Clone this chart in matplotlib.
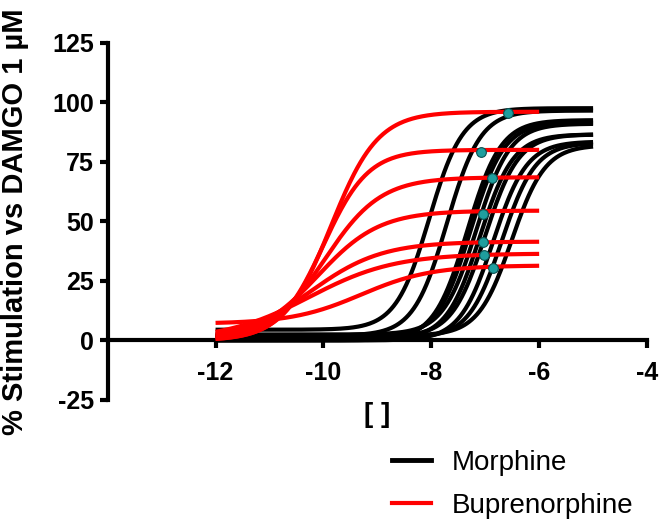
import numpy as np
import matplotlib
matplotlib.use("Agg")
import matplotlib.pyplot as plt
from matplotlib.lines import Line2D

plt.rcParams['font.family'] = ['Liberation Sans', 'DejaVu Sans']
plt.rcParams['axes.unicode_minus'] = False

# ---------------- data ----------------
x_ticks = [-12, -10, -8, -6, -4]
x_tick_labels = ['-12', '-10', '-8', '-6', '-4']
y_ticks = [-25, 0, 25, 50, 75, 100, 125]

# Morphine fitted curves (4-parameter logistic), log[agonist] -12 .. -5
morphine_bottom = [4.5, 2.0, 0.0, 1.0, 2.5, 0.5, 1.5, 0.0, 1.0, 2.0]
morphine_top = [97.5, 96.5, 92.5, 91.5, 91.0, 86.5, 86.5, 83.5, 83.0, 82.0]
morphine_logec50 = [-8.04, -7.71, -7.33, -7.27, -7.16, -7.10, -7.00, -6.85, -6.69, -6.51]
morphine_hill = [1.4, 1.4, 1.4, 1.4, 1.4, 1.4, 1.4, 1.4, 1.4, 1.4]
morphine_range = (-12, -5)

# Buprenorphine fitted curves, log[agonist] -12 .. -6
bup_bottom = [0.0, 0.0, 0.0, 0.0, 0.0, 0.0, 7.0]
bup_top = [96.0, 80.0, 68.5, 54.5, 41.5, 36.5, 31.5]
bup_logec50 = [-9.86, -10.0, -9.97, -10.10, -10.23, -10.26, -9.3]
bup_hill = [1.0, 1.05, 0.84, 0.76, 0.66, 0.55, 0.67]
bup_range = (-12, -6)

# highlighted intersection points
dot_x = [-6.57, -7.08, -6.88, -7.04, -7.05, -7.02, -6.85]
dot_y = [95.4, 79.0, 68.3, 53.0, 41.5, 35.9, 30.3]

legend_labels = ['Morphine', 'Buprenorphine']


def logistic(x, bottom, top, logec50, hill):
    return bottom + (top - bottom) / (1.0 + 10 ** ((logec50 - x) * hill))


fig = plt.figure(figsize=(6.66, 5.25), dpi=100)
ax = fig.add_axes([0.1617, 0.2381, 0.8098, 0.6806])

lw = 3.0
xm = np.linspace(morphine_range[0], morphine_range[1], 300)
for b, t, e, h in zip(morphine_bottom, morphine_top, morphine_logec50, morphine_hill):
    ax.plot(xm, logistic(xm, b, t, e, h), color='black', lw=lw, zorder=3,
            solid_capstyle='butt')

xb = np.linspace(bup_range[0], bup_range[1], 300)
for b, t, e, h in zip(bup_bottom, bup_top, bup_logec50, bup_hill):
    ax.plot(xb, logistic(xb, b, t, e, h), color='#ff0000', lw=lw, zorder=4,
            solid_capstyle='butt')

ax.plot(dot_x, dot_y, 'o', ms=7, mfc='#1f9e9e', mec='#0a5050', mew=0.8, zorder=5)

ax.set_xlim(-14, -4)
ax.set_ylim(-25, 125)

for s in ['top', 'right']:
    ax.spines[s].set_visible(False)
ax.spines['bottom'].set_position(('data', 0))
for s in ['left', 'bottom']:
    ax.spines[s].set_linewidth(3)

ax.set_xticks(x_ticks)
ax.set_xticklabels(x_tick_labels)
ax.set_yticks(y_ticks)
ax.set_yticklabels([str(v) for v in y_ticks])
ax.tick_params(axis='both', direction='out', length=6, width=3, labelsize=18)
ax.tick_params(axis='x', pad=9)
ax.tick_params(axis='y', pad=4)
for lab in ax.get_xticklabels() + ax.get_yticklabels():
    lab.set_fontweight('bold')

ax.set_xlabel('[ ]', fontsize=20, fontweight='bold')
ax.xaxis.set_label_coords(0.5, -0.005)
ax.set_ylabel('% Stimulation vs DAMGO 1 µM', fontsize=21, fontweight='bold')
ax.yaxis.set_label_coords(-0.146, 0.5)

handles = [Line2D([], [], color='black', lw=3.5),
           Line2D([], [], color='#ff0000', lw=3)]
ax.legend(handles, legend_labels, loc='upper left',
          bbox_to_anchor=(392 / 666, 1 - 450 / 525), bbox_transform=fig.transFigure,
          frameon=False, borderaxespad=0, borderpad=0, fontsize=20,
          handlelength=1.4, handletextpad=0.75, labelspacing=0.62)

fig.savefig('out.png', dpi=100)
